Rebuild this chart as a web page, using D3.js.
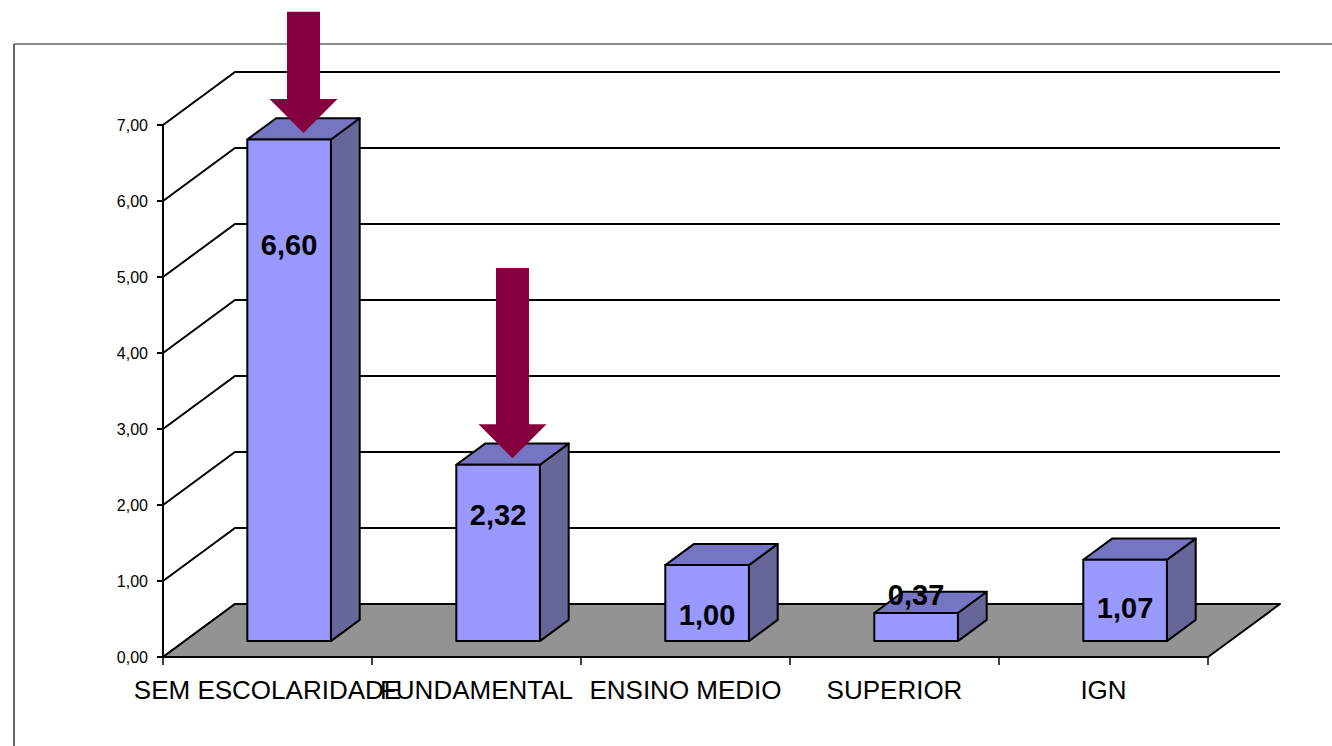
<!DOCTYPE html>
<html>
<head>
<meta charset="utf-8">
<script src="https://cdn.jsdelivr.net/npm/d3@7"></script>
<style>
  body { margin: 0; background: #fff; }
  svg { display: block; font-family: "Liberation Sans", Arial, sans-serif; }
</style>
</head>
<body>
<div id="chart"></div>
<script>
// data
var categories = ["SEM ESCOLARIDADE", "FUNDAMENTAL", "ENSINO MEDIO", "SUPERIOR", "IGN"];
var values = [6.60, 2.32, 1.00, 0.37, 1.07];
var valueLabels = ["6,60", "2,32", "1,00", "0,37", "1,07"];
var tickValues = [0, 1, 2, 3, 4, 5, 6, 7];
var tickLabels = ["0,00", "1,00", "2,00", "3,00", "4,00", "5,00", "6,00", "7,00"];
// where each value label sits, in axis units above the bar base
var labelAt = [5.21, 1.66, 0.34, 0.61, 0.43];
// highlighted bars (arrows) and where each arrow starts, in axis units
var arrowBars = [0, 1];
var arrowFrom = [8.14, 4.77];

var W = 1332, H = 746;
var depth = { dx: 72, dy: -53 };   // 3d offset from front to back wall
var barFront = 0.3, barBack = 0.7;

var svg = d3.select("#chart").append("svg")
    .attr("width", W)
    .attr("height", H);

var x = d3.scaleBand().domain(categories).range([163, 1208]).padding(0);
var y = d3.scaleLinear().domain([0, 7]).range([657, 125]);
var barW = x.bandwidth() * 0.4;

function p(px, v, d) {
    return [px + d * depth.dx, y(v) + d * depth.dy];
}
function poly(pts) { return "M" + pts.map(function (q) { return q.join(","); }).join("L") + "Z"; }

// outer frame
svg.append("line").attr("x1", 14).attr("x2", W).attr("y1", 44).attr("y2", 44)
    .attr("stroke", "#666").attr("stroke-width", 1.5);
svg.append("line").attr("x1", 14).attr("x2", 14).attr("y1", 44).attr("y2", H)
    .attr("stroke", "#333").attr("stroke-width", 1.5);

var x0 = x.range()[0], x1 = x.range()[1];

// back wall gridlines + side wall diagonals
var grid = svg.append("g").attr("stroke", "#000").attr("stroke-width", 2).attr("fill", "none");
tickValues.forEach(function (v) {
    var a = p(x0, v, 0), b = p(x0, v, 1), c = p(x1, v, 1);
    grid.append("path").attr("d", "M" + a + "L" + b + "L" + c);
});

// floor
svg.append("path")
    .attr("d", poly([p(x0, 0, 0), p(x0, 0, 1), p(x1, 0, 1), p(x1, 0, 0)]))
    .attr("fill", "#939393")
    .attr("stroke", "#000")
    .attr("stroke-width", 2)
    .attr("stroke-linejoin", "round");

// bars
var bars = svg.append("g").attr("stroke", "#000").attr("stroke-width", 2).attr("stroke-linejoin", "round");
categories.forEach(function (c, i) {
    var bx = x(c) + (x.bandwidth() - barW) / 2;
    var v = values[i];
    var b = bars.append("g");
    // side
    b.append("path").attr("fill", "#666699")
        .attr("d", poly([p(bx + barW, 0, barFront), p(bx + barW, 0, barBack), p(bx + barW, v, barBack), p(bx + barW, v, barFront)]));
    // top
    b.append("path").attr("fill", "#7575c2")
        .attr("d", poly([p(bx, v, barFront), p(bx, v, barBack), p(bx + barW, v, barBack), p(bx + barW, v, barFront)]));
    // front
    b.append("path").attr("fill", "#9999ff")
        .attr("d", poly([p(bx, 0, barFront), p(bx, v, barFront), p(bx + barW, v, barFront), p(bx + barW, 0, barFront)]));
});

// value labels
svg.append("g").selectAll("text").data(categories).join("text")
    .attr("x", function (c) { return p(x(c) + x.bandwidth() / 2, 0, barFront)[0]; })
    .attr("y", function (c, i) { return p(0, labelAt[i], barFront)[1] + 10; })
    .attr("text-anchor", "middle")
    .attr("font-size", 29)
    .attr("font-weight", "bold")
    .attr("fill", "#000")
    .text(function (c, i) { return valueLabels[i]; });

// vertical axis
svg.append("line").attr("x1", x0).attr("x2", x0).attr("y1", y(0)).attr("y2", y(7))
    .attr("stroke", "#000").attr("stroke-width", 2);
var yt = svg.append("g");
tickValues.forEach(function (v, i) {
    yt.append("line").attr("x1", x0 - 6).attr("x2", x0).attr("y1", y(v)).attr("y2", y(v))
        .attr("stroke", "#000").attr("stroke-width", 2);
    yt.append("text").attr("x", x0 - 15).attr("y", y(v) + 6)
        .attr("text-anchor", "end").attr("font-size", 16).text(tickLabels[i]);
});

// category axis
svg.append("line").attr("x1", x0).attr("x2", x1).attr("y1", y(0)).attr("y2", y(0))
    .attr("stroke", "#000").attr("stroke-width", 2);
var xt = svg.append("g");
categories.forEach(function (c, i) {
    if (i === 0) {
        xt.append("line").attr("x1", x(c)).attr("x2", x(c)).attr("y1", y(0)).attr("y2", y(0) + 8)
            .attr("stroke", "#000").attr("stroke-width", 1.5);
    }
    xt.append("line").attr("x1", x(c) + x.bandwidth()).attr("x2", x(c) + x.bandwidth())
        .attr("y1", y(0)).attr("y2", y(0) + 8)
        .attr("stroke", "#000").attr("stroke-width", 1.5);
    xt.append("text").attr("x", x(c) + x.bandwidth() / 2).attr("y", y(0) + 42)
        .attr("text-anchor", "middle").attr("font-size", 26).text(c);
});

// arrows
var shaftHalf = 16.5, headHalf = 34, headH = 34;
arrowBars.forEach(function (bi, k) {
    var c = categories[bi];
    var tip = p(x(c) + x.bandwidth() / 2, values[bi], (barFront + barBack) / 2);
    tip[1] += 4;
    var top = p(x(c) + x.bandwidth() / 2, arrowFrom[k], (barFront + barBack) / 2)[1];
    var cx = tip[0], neck = tip[1] - headH;
    svg.append("path")
        .attr("fill", "#86003f")
        .attr("d", poly([
            [cx - shaftHalf, top], [cx + shaftHalf, top], [cx + shaftHalf, neck],
            [cx + headHalf, neck], [cx, tip[1]], [cx - headHalf, neck], [cx - shaftHalf, neck]
        ]));
});
</script>
</body>
</html>
